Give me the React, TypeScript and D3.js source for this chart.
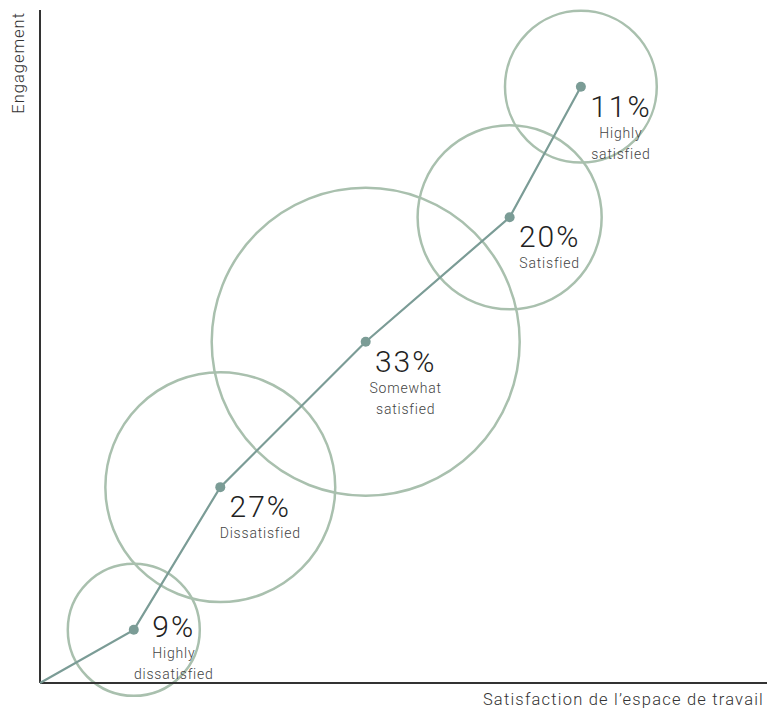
import React from "react";
import * as d3 from "d3";

const categories = ["Highly dissatisfied", "Dissatisfied", "Somewhat satisfied", "Satisfied", "Highly satisfied"];
const shares = [9, 27, 33, 20, 11];
const satisfaction = [12.9, 24.8, 44.8, 64.6, 74.4];
const engagement = [7.9, 29.1, 50.7, 69.2, 88.6];
const bubbleSize = [9, 27.3, 49, 17.5, 11.9];
const labelLines = [["Highly", "dissatisfied"], ["Dissatisfied"], ["Somewhat", "satisfied"], ["Satisfied"], ["Highly", "satisfied"]];

const W = 767;
const H = 710;
const left = 40;
const right = 767;
const top = 10;
const bottom = 683;

export default function App() {
  const x = d3.scaleLinear().domain([0, 100]).range([left, right]);
  const y = d3.scaleLinear().domain([0, 100]).range([bottom, top]);
  const r = d3.scaleSqrt().domain([0, 49]).range([0, 154]);
  const pts: [number, number][] = [[0, 0], ...satisfaction.map((s, i) => [s, engagement[i]] as [number, number])];
  const line = d3.line<[number, number]>().x((d) => x(d[0])).y((d) => y(d[1]));
  const font = "Roboto, 'Noto Sans', sans-serif";

  return (
    <svg width={W} height={H} style={{ position: "absolute", left: 0, top: 0, background: "#fff" }}>
      {categories.map((c, i) => (
        <circle key={"c" + c} cx={x(satisfaction[i])} cy={y(engagement[i])} r={r(bubbleSize[i])}
          fill="none" stroke="#a9c0ae" strokeWidth={2.5} />
      ))}
      <line x1={left} x2={left} y1={top} y2={bottom} stroke="#333" strokeWidth={2} />
      <line x1={left} x2={right} y1={bottom} y2={bottom} stroke="#333" strokeWidth={2} />
      <path d={line(pts) || ""} fill="none" stroke="#7b9c96" strokeWidth={2.2} />
      {categories.map((c, i) => (
        <circle key={"p" + c} cx={x(satisfaction[i])} cy={y(engagement[i])} r={5} fill="#7b9c96" />
      ))}
      {categories.map((c, i) => {
        const cx = x(satisfaction[i]) + 40;
        const lines = labelLines[i];
        let base = y(engagement[i]) + 30;
        const lastBase = base + 21 * lines.length;
        if (lastBase > bottom - 4) base -= lastBase - (bottom - 4);
        return (
          <g key={"l" + c} fontFamily={font} textAnchor="middle">
            <text x={cx} y={base} fontSize={30} fontWeight={300} fill="#222" letterSpacing={2}>{shares[i]}%</text>
            {lines.map((t, j) => (
              <text key={t} x={cx} y={base + 21 * (j + 1)} fontSize={14} fontWeight={300} fill="#444" letterSpacing={0.8}>{t}</text>
            ))}
          </g>
        );
      })}
      <text transform={`translate(24,${top + 2}) rotate(-90)`} textAnchor="end" fontFamily={font} fontSize={16.5} fontWeight={300} fill="#333" letterSpacing={1}>Engagement</text>
      <text x={W - 3} y={705} textAnchor="end" fontFamily={font} fontSize={16.5} fontWeight={300} fill="#333" letterSpacing={1.2}>Satisfaction de l’espace de travail</text>
    </svg>
  );
}
